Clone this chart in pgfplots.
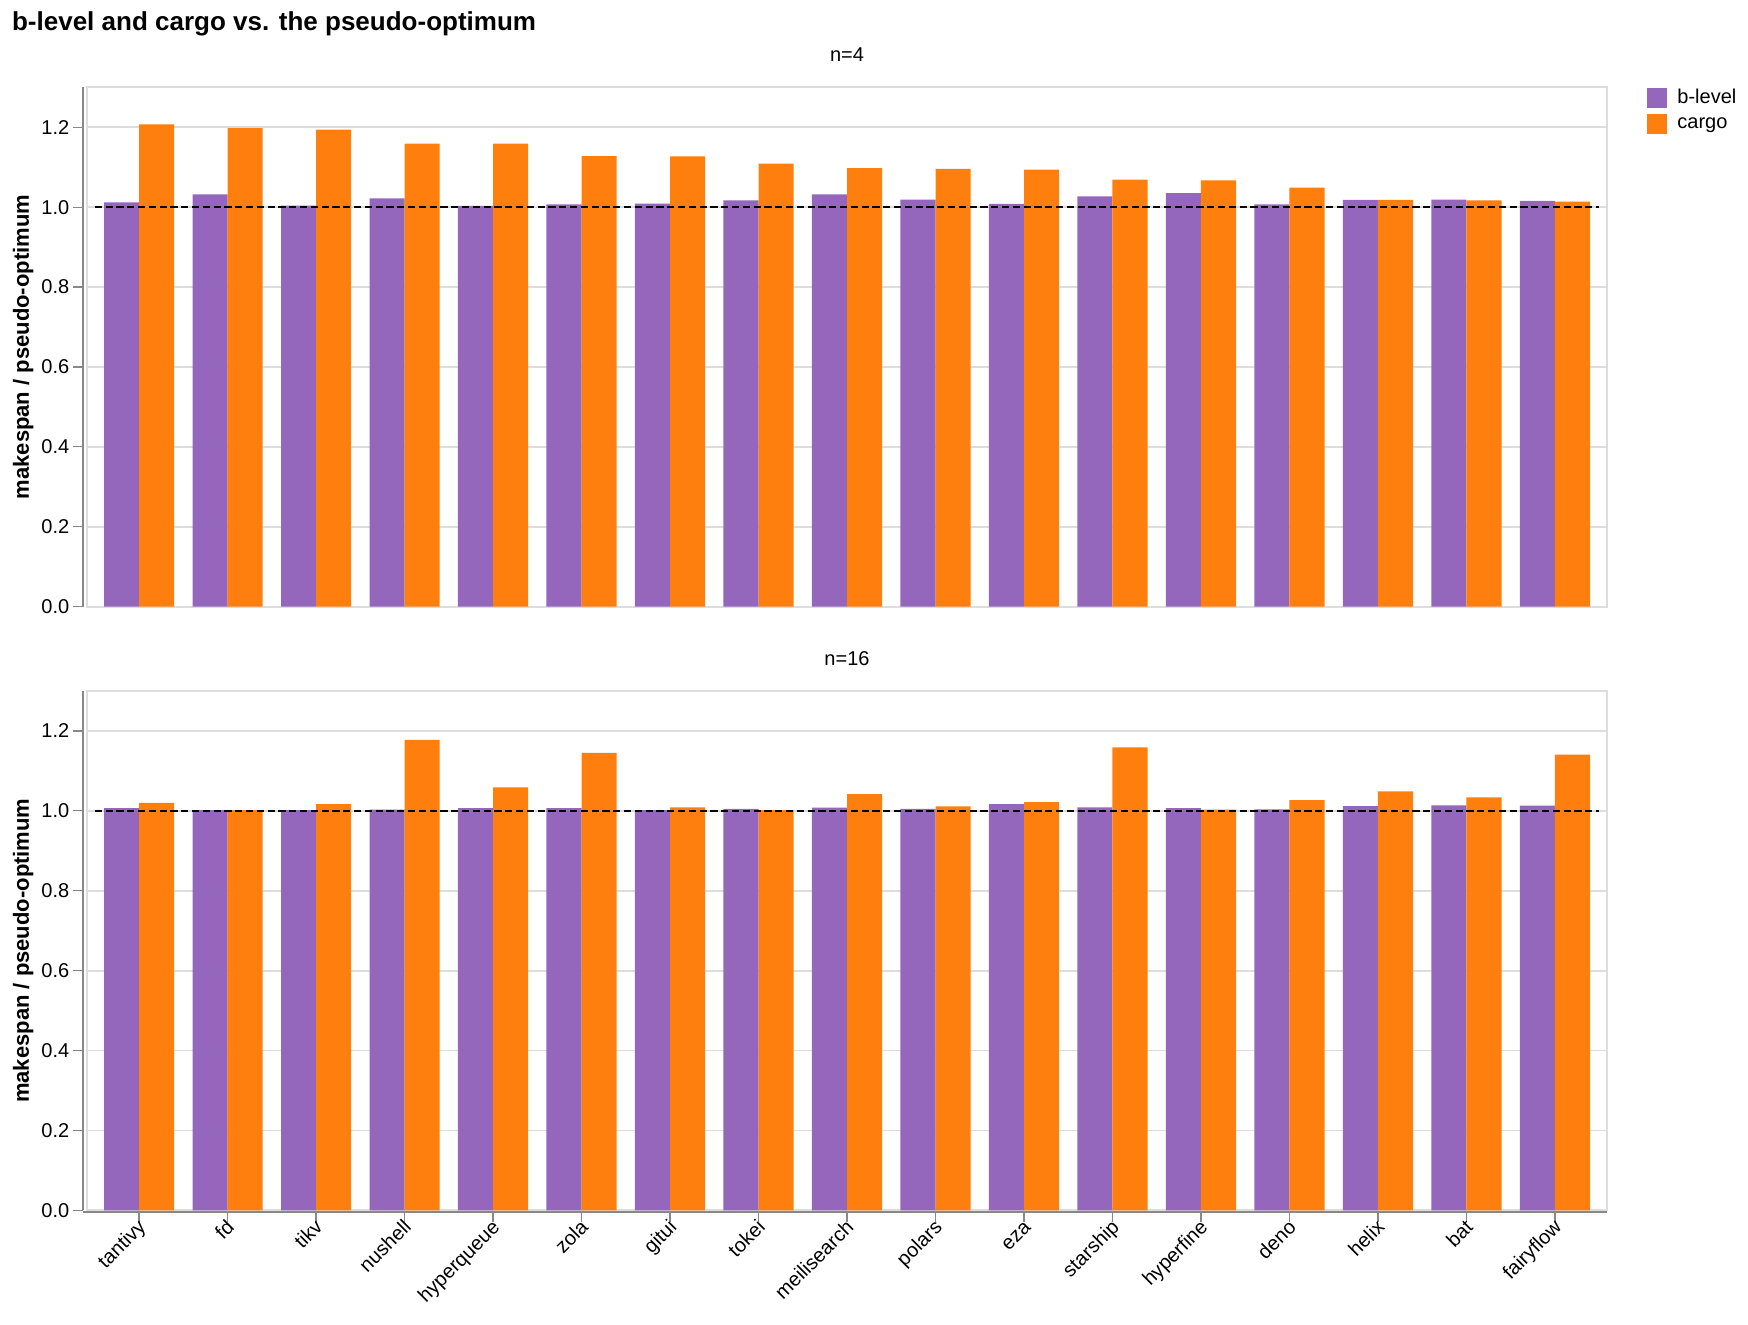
\documentclass[border=0pt]{standalone}
\usepackage{fontspec}
\setmainfont{Liberation Sans}
\usepackage{pgfplots}
\pgfplotsset{compat=1.18}
\definecolor{blevel}{HTML}{9467BD}
\definecolor{cargo}{HTML}{FF7F0E}
\definecolor{gridgray}{HTML}{DDDDDD}
\definecolor{axisgray}{HTML}{888888}
\newcommand{\tickfont}{\fontsize{10}{12}\selectfont}
\pgfplotsset{
  panel/.style={
    scale only axis, width=759.7pt, height=259.7pt,
    anchor=north west,
    xmin=-0.585, xmax=16.585, ymin=0, ymax=1.3,
    ytick={0,0.2,0.4,0.6,0.8,1.0,1.2},
    yticklabel style={/pgf/number format/fixed,/pgf/number format/fixed zerofill,/pgf/number format/precision=1, font=\tickfont, inner sep=0pt, anchor=east, xshift=-3.8pt},
    /pgf/number format/assume math mode=true,
    ymajorgrids, grid style={gridgray, line width=0.8pt},
    axis line style={gridgray, line width=1pt},
    tick align=outside, major tick length=5pt,
    ytick pos=left, xtick pos=bottom,
    every y tick/.style={axisgray, line width=0.6pt, xshift=-2pt},
    every x tick/.style={axisgray, line width=0.6pt, yshift=-1pt},
    ylabel={\bfseries makespan / pseudo-optimum},
    ylabel style={at={(axis description cs:0,0.5)}, anchor=center, yshift=32pt, font=\bfseries\fontsize{11}{13}\selectfont},
    title style={at={(0.5,1)}, anchor=base, yshift=7pt, font=\tickfont},
    clip=false,
  },
  bl/.style={ybar, bar width=0.396, bar shift=-0.198, fill=blevel, draw=none,
    legend image code/.code={\fill[blevel] (0pt,-5pt) rectangle (10pt,5pt);}},
  cg/.style={ybar, bar width=0.396, bar shift=0.198, fill=cargo, draw=none,
    legend image code/.code={\fill[cargo] (0pt,-5pt) rectangle (10pt,5pt);}},
  rule/.style={black, line width=1pt, dash pattern=on 3.6pt off 1.8pt, forget plot},
}
\begin{document}
\begin{tikzpicture}
\path[use as bounding box] (0,0) rectangle (874pt,-662pt);
\node[anchor=base west, inner sep=0pt, font=\bfseries\fontsize{13}{15}\selectfont] at (5.85pt,-15pt) {b-level and cargo vs. the pseudo-optimum};
\begin{axis}[panel, at={(43.65pt,-43.65pt)}, title={n=4}, xtick=\empty,
  legend style={at={(1,1)}, anchor=north west, xshift=20.35pt, yshift=-0.35pt,
    draw=none, fill=none, inner sep=0pt, outer sep=0pt, font=\tickfont,
    row sep=2.75pt, column sep=5pt, nodes={inner sep=0pt, text height=7.5pt, text depth=2.5pt}},
  legend cell align=left]
\addplot[bl] coordinates {(0,1.012) (1,1.032) (2,1.004) (3,1.022) (4,1.003) (5,1.007) (6,1.009) (7,1.017) (8,1.032) (9,1.019) (10,1.008) (11,1.027) (12,1.035) (13,1.007) (14,1.018) (15,1.019) (16,1.016)};
\addplot[cg] coordinates {(0,1.207) (1,1.198) (2,1.194) (3,1.159) (4,1.159) (5,1.128) (6,1.127) (7,1.109) (8,1.098) (9,1.096) (10,1.094) (11,1.069) (12,1.067) (13,1.049) (14,1.018) (15,1.017) (16,1.014)};
\addplot[rule] coordinates {(-0.5,1) (16.5,1)};
\legend{b-level, cargo}
\draw[axisgray, line width=1pt] ([xshift=-2pt]rel axis cs:0,0) -- ([xshift=-2pt]rel axis cs:0,1);
\end{axis}
\begin{axis}[panel, at={(43.65pt,-345.5pt)}, title={n=16},
  xtick={0,1,2,3,4,5,6,7,8,9,10,11,12,13,14,15,16},
  xticklabels={tantivy,fd,tikv,nushell,hyperqueue,zola,gitui,tokei,meilisearch,polars,eza,starship,hyperfine,deno,helix,bat,fairyflow},
  xticklabel style={rotate=45, anchor=mid east, inner sep=0pt, yshift=-3pt, font=\tickfont}]
\addplot[bl] coordinates {(0,1.007) (1,1.002) (2,1.002) (3,1.003) (4,1.007) (5,1.007) (6,1.002) (7,1.005) (8,1.008) (9,1.005) (10,1.017) (11,1.009) (12,1.007) (13,1.004) (14,1.012) (15,1.014) (16,1.013)};
\addplot[cg] coordinates {(0,1.020) (1,1.002) (2,1.017) (3,1.178) (4,1.059) (5,1.145) (6,1.009) (7,1.002) (8,1.042) (9,1.011) (10,1.022) (11,1.159) (12,1.003) (13,1.027) (14,1.049) (15,1.034) (16,1.141)};
\addplot[rule] coordinates {(-0.5,1) (16.5,1)};
\draw[axisgray, line width=1pt] ([xshift=-2pt]rel axis cs:0,0) -- ([xshift=-2pt]rel axis cs:0,1);
\draw[axisgray, line width=1pt] ([yshift=-1pt,xshift=-2pt]rel axis cs:0,0) -- ([yshift=-1pt]rel axis cs:1,0);
\end{axis}
\end{tikzpicture}
\end{document}
